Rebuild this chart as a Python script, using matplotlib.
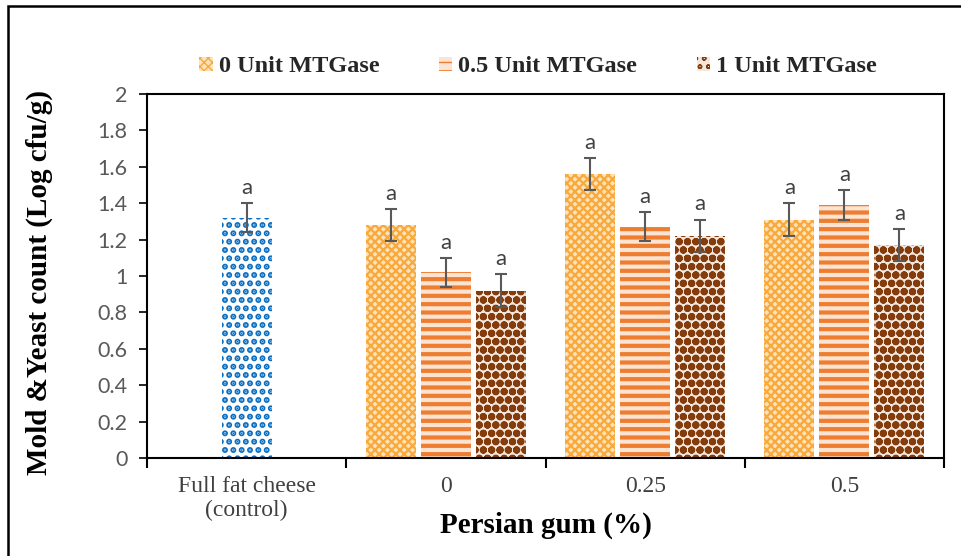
import matplotlib
matplotlib.use("Agg")
import matplotlib.pyplot as plt
from matplotlib.patches import Rectangle
import numpy as np

# ---- data ----
categories = ["Full fat cheese\n(control)", "0", "0.25", "0.5"]
series_names = ["0 Unit MTGase", "0.5 Unit MTGase", "1 Unit MTGase"]
control_value = 1.32
control_err = 0.08
mtg0_values = [1.28, 1.56, 1.31]
mtg05_values = [1.02, 1.27, 1.39]
mtg1_values = [0.92, 1.22, 1.17]
mtg0_err = [0.09, 0.09, 0.09]
mtg05_err = [0.08, 0.08, 0.08]
mtg1_err = [0.09, 0.09, 0.09]
letters_control = "a"
letters_mtg0 = ["a", "a", "a"]
letters_mtg05 = ["a", "a", "a"]
letters_mtg1 = ["a", "a", "a"]
y_ticks = [0, 0.2, 0.4, 0.6, 0.8, 1, 1.2, 1.4, 1.6, 1.8, 2]
y_tick_labels = ["0", "0.2", "0.4", "0.6", "0.8", "1", "1.2", "1.4", "1.6", "1.8", "2"]

SERIF = ["Liberation Serif", "DejaVu Serif"]
SANS = ["Lato", "DejaVu Sans"]

fig = plt.figure(figsize=(9.61, 5.56), dpi=100)
ax = fig.add_axes([147/961, 1-458/556, (944-147)/961, (458-94)/556])

# outer frame
fig.add_artist(Rectangle((8/961, -0.1), 1.2, 1.1 - 6/556, transform=fig.transFigure,
                         fill=False, edgecolor="black", linewidth=1.8, clip_on=False))

centers = np.arange(len(categories)) + 0.5
width = 0.25
step = 0.276

styles = [
    dict(facecolor="#FDE2BC", edgecolor="#F9A93A", hatch="xxxx", hlw=1.6),
    dict(facecolor="#FCE3D2", edgecolor="#ED7D31", hatch="--", hlw=3.0),
    dict(facecolor="#F3E6DC", edgecolor="#843C0C", hatch="oo", hlw=2.8),
]
ctrl_style = dict(facecolor="white", edgecolor="#0A6FC2", hatch="..", hlw=3.0)

def draw_bars(x, vals, errs, st, label=None):
    bars = ax.bar(x, vals, width, facecolor=st["facecolor"], edgecolor=st["edgecolor"],
                  hatch=st["hatch"], linewidth=0, label=label, zorder=2)
    for b in bars:
        if hasattr(b, "set_hatch_linewidth"):
            b.set_hatch_linewidth(st["hlw"])
    ax.errorbar(x, vals, yerr=errs, fmt="none", ecolor="#595959", elinewidth=1.5,
                capsize=4.3, capthick=1.5, zorder=3)
    return bars

LET_OFF = 0.028
draw_bars([centers[0]], [control_value], [control_err], ctrl_style)
ax.text(centers[0], control_value + control_err + LET_OFF, letters_control, ha="center",
        va="bottom", fontsize=16, color="#404040", family=SANS)

group_x = centers[1:]
all_vals = [mtg0_values, mtg05_values, mtg1_values]
all_errs = [mtg0_err, mtg05_err, mtg1_err]
all_letters = [letters_mtg0, letters_mtg05, letters_mtg1]
for i, (vals, errs, lets) in enumerate(zip(all_vals, all_errs, all_letters)):
    x = group_x + (i - 1) * step
    draw_bars(x, vals, errs, styles[i], label=series_names[i])
    for xi, v, e, l in zip(x, vals, errs, lets):
        ax.text(xi, v + e + LET_OFF, l, ha="center", va="bottom", fontsize=16,
                color="#404040", family=SANS)

ax.set_xlim(0, 4)
ax.set_ylim(0, 2)
ax.set_yticks(y_ticks)
ax.set_yticklabels(y_tick_labels, family=SANS, fontsize=15.5, color="#595959")
ax.tick_params(axis="y", direction="out", length=6, width=1.2, pad=8)

ax.set_xticks([0, 1, 2, 3, 4])
ax.set_xticklabels([])
ax.set_xticks(centers, minor=True)
ax.set_xticklabels(categories, minor=True, family=SERIF, fontsize=17, color="#404040")
ax.tick_params(axis="x", which="major", direction="out", length=7, width=1.5)
ax.tick_params(axis="x", which="minor", length=0, pad=13)

for s in ax.spines.values():
    s.set_linewidth(1.5)
    s.set_color("black")

ax.set_xlabel("Persian gum (%)", family=SERIF, fontsize=21, fontweight="bold", labelpad=-7)
ax.set_ylabel("Mold &Yeast count (Log cfu/g)", family=SERIF, fontsize=21, fontweight="bold")
ax.yaxis.set_label_coords(-94/797, 0.482)

leg = ax.legend(loc="center", bbox_to_anchor=(538/961, 1-67/556), bbox_transform=fig.transFigure,
                ncol=3, frameon=False, prop=dict(family=SERIF, weight="bold", size=17.5),
                handlelength=0.55, handleheight=0.55, handletextpad=0.25, columnspacing=2.45)
for t in leg.get_texts():
    t.set_color("#262626")

fig.savefig("out.png", dpi=100)
